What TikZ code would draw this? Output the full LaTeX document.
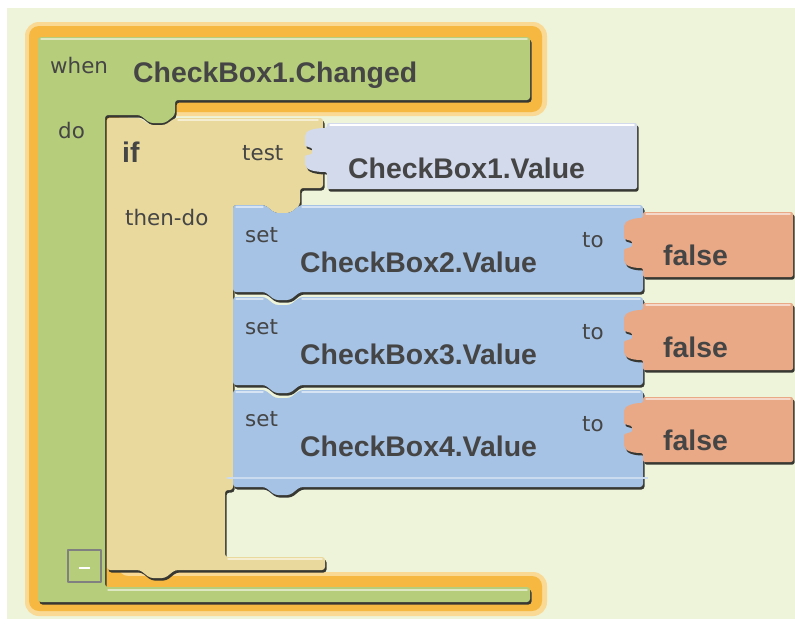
\documentclass[tikz,border=0pt]{standalone}
\usepackage{fontspec}
\setmainfont{Liberation Sans}
\newfontfamily\keyfont{DejaVu Sans}
\definecolor{bgcol}{rgb}{0.933,0.957,0.851}
\definecolor{glowcol}{rgb}{0.965,0.722,0.251}
\definecolor{glowout}{rgb}{0.976,0.851,0.580}
\definecolor{textcol}{rgb}{0.27,0.27,0.27}
\definecolor{shadowcol}{rgb}{0.22,0.22,0.20}
\begin{document}
\begin{tikzpicture}[yscale=-1,line join=bevel,
  shadowed/.style={preaction={fill=shadowcol,transform canvas={xshift=1.5bp,yshift=-2.5bp}}},
  shine/.style={draw=fillcol!45!white,line width=1.5bp,line cap=round},
  keyword/.style={font=\keyfont\fontsize{21.5}{24}\selectfont,text=textcol,inner sep=0pt,anchor=base west},
  blockname/.style={font=\bfseries\fontsize{28.5}{32}\selectfont,text=textcol,inner sep=0pt,anchor=base west}]
  \useasboundingbox (0bp,0bp) rectangle (795bp,624bp);
%%
  \fill[white] (0bp,0bp) rectangle (795bp,624bp);
  \fill[bgcol] (7bp,8bp) rectangle (795bp,619bp);
  % Glow: when
  \fill[glowout,rounded corners=14bp] (25bp,22bp) -- (547bp,22bp) -- (547bp,116bp) -- (120bp,116bp) -- (120bp,572bp) -- (547bp,572bp) -- (547bp,616bp) -- (25bp,616bp) -- cycle;
  \fill[glowcol,rounded corners=10bp] (29bp,26bp) -- (542bp,26bp) -- (542bp,112bp) -- (118bp,112bp) -- (118bp,576bp) -- (542bp,576bp) -- (542bp,611bp) -- (29bp,611bp) -- cycle;
  % Node: when
\begin{scope}
  \definecolor{fillcol}{rgb}{0.714,0.804,0.482};
  \fill[fillcol,shadowed,rounded corners=3bp] (38bp,37bp) -- (530bp,37bp) -- (530bp,100bp) -- (175bp,100bp) -- (175bp,115bp) -- (165bp,123bp) -- (150bp,123bp) -- (140bp,115bp) -- (105bp,115bp) -- (105bp,587bp) -- (530bp,587bp) -- (530bp,602bp) -- (38bp,602bp) -- cycle;
  \draw[shine] (41bp,39bp) -- (527bp,39bp);
  \draw[shine] (108bp,590bp) -- (527bp,590bp);
  \node[keyword] (when) at (50bp,73bp) {when};
  \node[blockname] (changed) at (133bp,82bp) {CheckBox1.Changed};
  \node[keyword] (do) at (58bp,138bp) {do};
  \draw[gray,line width=1.5bp] (68bp,550bp) rectangle (101bp,582bp);
  \draw[white,line width=2bp] (79bp,568bp) -- (90bp,568bp);
\end{scope}
  % Node: if
\begin{scope}
  \definecolor{fillcol}{rgb}{0.914,0.851,0.616};
  \fill[fillcol,shadowed,rounded corners=3bp] (107bp,118bp) -- (140bp,118bp) -- (150bp,125bp) -- (165bp,125bp) -- (175bp,118bp) -- (323bp,118bp) -- (323bp,188bp) -- (300bp,188bp) -- (300bp,205bp) -- (290bp,213bp) -- (275bp,213bp) -- (265bp,205bp) -- (233bp,205bp) -- (233bp,490bp) -- (225bp,490bp) -- (225bp,557bp) -- (325bp,557bp) -- (325bp,570bp) -- (175bp,570bp) -- (165bp,578bp) -- (150bp,578bp) -- (140bp,570bp) -- (107bp,570bp) -- cycle;
  \draw[shine] (178bp,120bp) -- (318bp,120bp);
  \draw[shine] (228bp,559bp) -- (322bp,559bp);
  \node[blockname] (if) at (122bp,162bp) {if};
  \node[keyword] (test) at (242bp,160bp) {test};
  \node[keyword] (thendo) at (125bp,225bp) {then-do};
\end{scope}
  % Node: value1
\begin{scope}
  \definecolor{fillcol}{rgb}{0.827,0.855,0.925};
  \fill[fillcol,shadowed,rounded corners=2bp] (327bp,123bp) -- (637bp,123bp) -- (637bp,189bp) -- (327bp,189bp) -- (327bp,172bp) .. controls (315bp,172bp) and (305bp,170bp) .. (305bp,162bp) -- (305bp,158bp) .. controls (305bp,155bp) and (312bp,155bp) .. (312bp,151bp) .. controls (312bp,147bp) and (305bp,147bp) .. (305bp,143bp) -- (305bp,138bp) .. controls (305bp,130bp) and (315bp,128bp) .. (327bp,128bp) -- cycle;
  \draw[draw=white,line width=1.5bp,line cap=round] (330bp,125bp) -- (634bp,125bp);
  \node[blockname] (value1) at (348bp,178bp) {CheckBox1.Value};
\end{scope}
  % Node: set2
\begin{scope}
  \definecolor{fillcol}{rgb}{0.651,0.765,0.898};
  \fill[fillcol,shadowed,rounded corners=3bp] (233bp,205bp) -- (265bp,205bp) -- (275bp,213bp) -- (290bp,213bp) -- (300bp,205bp) -- (643bp,205bp) -- (643bp,292bp) -- (300bp,292bp) -- (290bp,300bp) -- (275bp,300bp) -- (265bp,292bp) -- (233bp,292bp) -- cycle;
  \draw[shine] (236bp,207bp) -- (263bp,207bp) (302bp,207bp) -- (640bp,207bp);
  \node[keyword] (set2) at (245bp,242bp) {set};
  \node[blockname] (value2) at (300bp,272bp) {CheckBox2.Value};
  \node[keyword] (to2) at (582bp,247bp) {to};
\end{scope}
  % Node: set3
\begin{scope}
  \definecolor{fillcol}{rgb}{0.651,0.765,0.898};
  \fill[fillcol,shadowed,rounded corners=3bp] (233bp,297bp) -- (265bp,297bp) -- (275bp,305bp) -- (290bp,305bp) -- (300bp,297bp) -- (643bp,297bp) -- (643bp,385bp) -- (300bp,385bp) -- (290bp,393bp) -- (275bp,393bp) -- (265bp,385bp) -- (233bp,385bp) -- cycle;
  \draw[shine] (236bp,299bp) -- (263bp,299bp) (302bp,299bp) -- (640bp,299bp);
  \node[keyword] (set3) at (245bp,334bp) {set};
  \node[blockname] (value3) at (300bp,364bp) {CheckBox3.Value};
  \node[keyword] (to3) at (582bp,339bp) {to};
\end{scope}
  % Node: set4
\begin{scope}
  \definecolor{fillcol}{rgb}{0.651,0.765,0.898};
  \fill[fillcol,shadowed,rounded corners=3bp] (233bp,390bp) -- (265bp,390bp) -- (275bp,398bp) -- (290bp,398bp) -- (300bp,390bp) -- (643bp,390bp) -- (643bp,487bp) -- (300bp,487bp) -- (290bp,495bp) -- (275bp,495bp) -- (265bp,487bp) -- (233bp,487bp) -- cycle;
  \draw[shine] (236bp,392bp) -- (263bp,392bp) (302bp,392bp) -- (640bp,392bp);
  \draw[fillcol!60!white,line width=2.5bp] (227bp,478bp) -- (648bp,478bp);
  \node[keyword] (set4) at (245bp,426bp) {set};
  \node[blockname] (value4) at (300bp,456bp) {CheckBox4.Value};
  \node[keyword] (to4) at (582bp,431bp) {to};
\end{scope}
  % Node: false2
\begin{scope}
  \definecolor{fillcol}{rgb}{0.914,0.663,0.529};
  \fill[fillcol,shadowed,rounded corners=2bp] (643bp,212bp) -- (793bp,212bp) -- (793bp,277bp) -- (643bp,277bp) -- (643bp,268bp) .. controls (633bp,268bp) and (624bp,266bp) .. (624bp,258bp) -- (624bp,252bp) .. controls (624bp,248bp) and (632bp,248bp) .. (632bp,244bp) .. controls (632bp,240bp) and (624bp,240bp) .. (624bp,236bp) -- (624bp,228bp) .. controls (624bp,221bp) and (633bp,218bp) .. (643bp,218bp) -- cycle;
  \draw[shine] (646bp,214bp) -- (790bp,214bp);
  \node[blockname] (false2) at (663bp,265bp) {false};
\end{scope}
  % Node: false3
\begin{scope}
  \definecolor{fillcol}{rgb}{0.914,0.663,0.529};
  \fill[fillcol,shadowed,rounded corners=2bp] (643bp,303bp) -- (793bp,303bp) -- (793bp,370bp) -- (643bp,370bp) -- (643bp,360bp) .. controls (633bp,360bp) and (624bp,358bp) .. (624bp,350bp) -- (624bp,344bp) .. controls (624bp,340bp) and (632bp,340bp) .. (632bp,336bp) .. controls (632bp,332bp) and (624bp,332bp) .. (624bp,328bp) -- (624bp,320bp) .. controls (624bp,313bp) and (633bp,310bp) .. (643bp,310bp) -- cycle;
  \draw[shine] (646bp,305bp) -- (790bp,305bp);
  \node[blockname] (false3) at (663bp,357bp) {false};
\end{scope}
  % Node: false4
\begin{scope}
  \definecolor{fillcol}{rgb}{0.914,0.663,0.529};
  \fill[fillcol,shadowed,rounded corners=2bp] (643bp,397bp) -- (793bp,397bp) -- (793bp,462bp) -- (643bp,462bp) -- (643bp,453bp) .. controls (633bp,453bp) and (624bp,451bp) .. (624bp,443bp) -- (624bp,437bp) .. controls (624bp,433bp) and (632bp,433bp) .. (632bp,429bp) .. controls (632bp,425bp) and (624bp,425bp) .. (624bp,421bp) -- (624bp,413bp) .. controls (624bp,406bp) and (633bp,403bp) .. (643bp,403bp) -- cycle;
  \draw[shine] (646bp,399bp) -- (790bp,399bp);
  \node[blockname] (false4) at (663bp,450bp) {false};
\end{scope}
%
\end{tikzpicture}
\end{document}
